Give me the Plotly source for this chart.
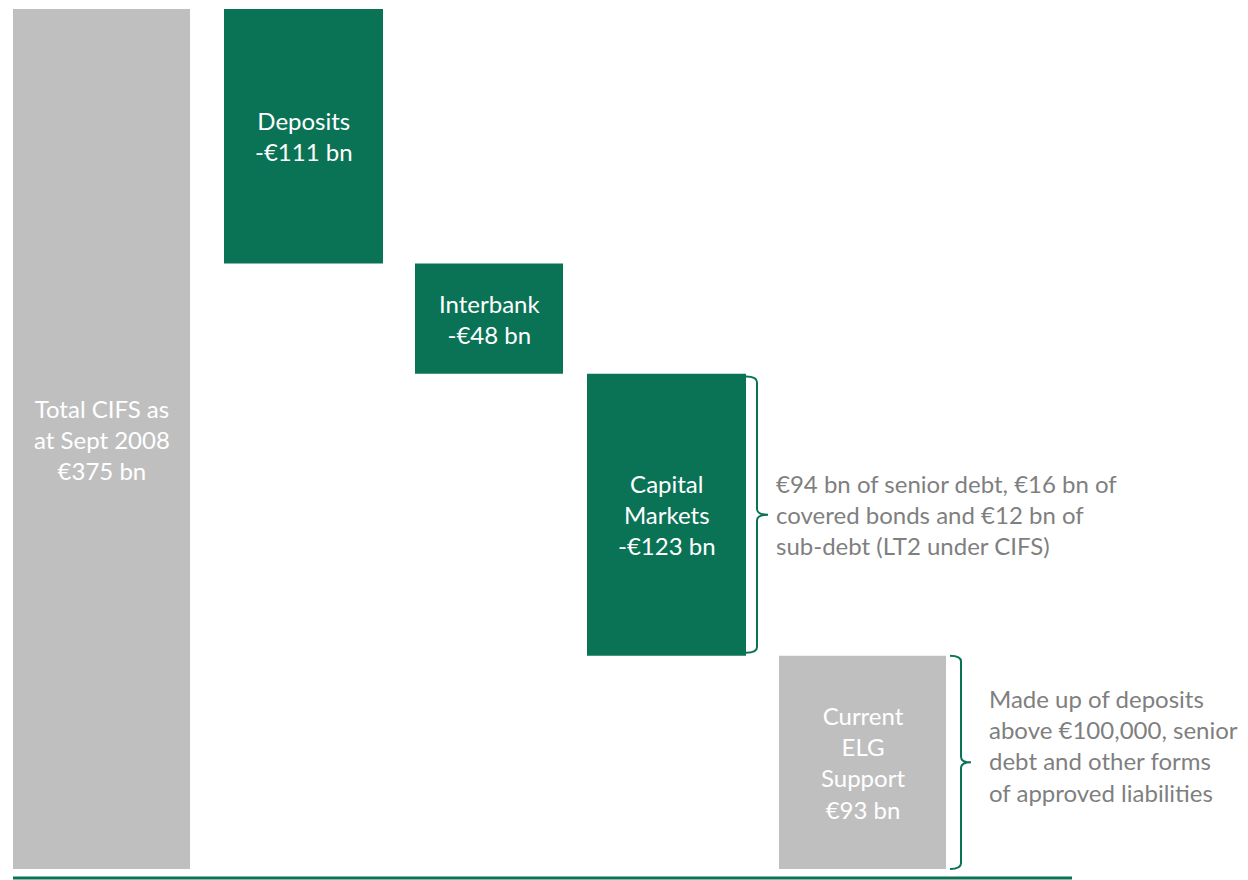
import plotly.graph_objects as go

# Breakdown of the covered liabilities (EUR bn)
categories = ["Total CIFS", "Deposits", "Interbank", "Capital Markets", "Current ELG Support"]
values = [375, 111, 48, 123, 93]
bar_labels = [
    "Total CIFS as<br>at Sept 2008<br>€375 bn",
    "Deposits<br>-€111 bn",
    "Interbank<br>-€48 bn",
    "Capital<br>Markets<br>-€123 bn",
    "Current<br>ELG<br>Support<br>€93 bn",
]
note_capital = "€94 bn of senior debt, €16 bn of<br>covered bonds and €12 bn of<br>sub-debt (LT2 under CIFS)"
note_elg = "Made up of deposits<br>above €100,000, senior<br>debt and other forms<br>of approved liabilities"

# Layout: horizontal placement of each bar (x axis runs in pixel units)
x_left = [13, 224, 415, 587, 779]
x_right = [190, 383, 563, 746, 946]

GREEN = "#0a7355"
GREY = "#bfbfbf"
TEXT_GREY = "#7f7f7f"
FONT = "Lato"
FONT_SIZE = 24

# Waterfall bases: total from zero, then each component steps down
bases = [0]
running = values[0]
for v in values[1:4]:
    running -= v
    bases.append(running)
bases.append(0)
colors = [GREY, GREEN, GREEN, GREEN, GREY]

centers = [(a + b) / 2 for a, b in zip(x_left, x_right)]
widths = [b - a for a, b in zip(x_left, x_right)]

fig = go.Figure(
    go.Bar(
        x=centers,
        y=values,
        base=bases,
        width=widths,
        marker=dict(color=colors, line=dict(width=0)),
        hoverinfo="skip",
    )
)

annotations = []
for cx, b, v, lab in zip(centers, bases, values, bar_labels):
    annotations.append(
        dict(
            x=cx, y=b + v / 2, xref="x", yref="y", text=lab, showarrow=False,
            font=dict(family=FONT, size=FONT_SIZE, color="white"), align="center",
        )
    )


def brace(x0, x1, tip, y_top, y_bot, r=2.5):
    """Right-facing curly bracket path in data coordinates."""
    ym = (y_top + y_bot) / 2
    return (
        f"M {x0},{y_top} Q {x1},{y_top} {x1},{y_top - r} "
        f"L {x1},{ym + r} Q {x1},{ym} {tip},{ym} "
        f"Q {x1},{ym} {x1},{ym - r} "
        f"L {x1},{y_bot + r} Q {x1},{y_bot} {x0},{y_bot}"
    )


cap_top = bases[3] + values[3]
cap_bot = bases[3]
elg_top = bases[4] + values[4]
elg_bot = bases[4]

shapes = [
    dict(type="path", xref="x", yref="y",
         path=brace(746, 757, 768, cap_top - 1.3, cap_bot + 1.3),
         line=dict(color=GREEN, width=2)),
    dict(type="path", xref="x", yref="y",
         path=brace(950, 961, 971, elg_top, elg_bot),
         line=dict(color=GREEN, width=2)),
    # baseline
    dict(type="line", xref="x", yref="paper", x0=13, x1=1072, y0=2 / 880, y1=2 / 880,
         line=dict(color=GREEN, width=3)),
]

annotations.append(
    dict(x=774, y=(cap_top + cap_bot) / 2, xref="x", yref="y", text=note_capital,
         showarrow=False, xanchor="left", align="left",
         font=dict(family=FONT, size=FONT_SIZE, color=TEXT_GREY))
)
annotations.append(
    dict(x=987, y=(elg_top + elg_bot) / 2, xref="x", yref="y", text=note_elg,
         showarrow=False, xanchor="left", align="left", yshift=17,
         font=dict(family=FONT, size=FONT_SIZE, color=TEXT_GREY))
)

# y range chosen so that 0 sits just above the baseline
span = 375 * 880 / 860
ymin = -11 * span / 880
fig.update_layout(
    width=1248, height=880,
    margin=dict(l=0, r=0, t=0, b=0),
    paper_bgcolor="white", plot_bgcolor="white",
    showlegend=False,
    xaxis=dict(range=[0, 1248], visible=False, fixedrange=True),
    yaxis=dict(range=[ymin, ymin + span], visible=False, fixedrange=True),
    shapes=shapes,
    annotations=annotations,
)

fig.write_html("out.html")
